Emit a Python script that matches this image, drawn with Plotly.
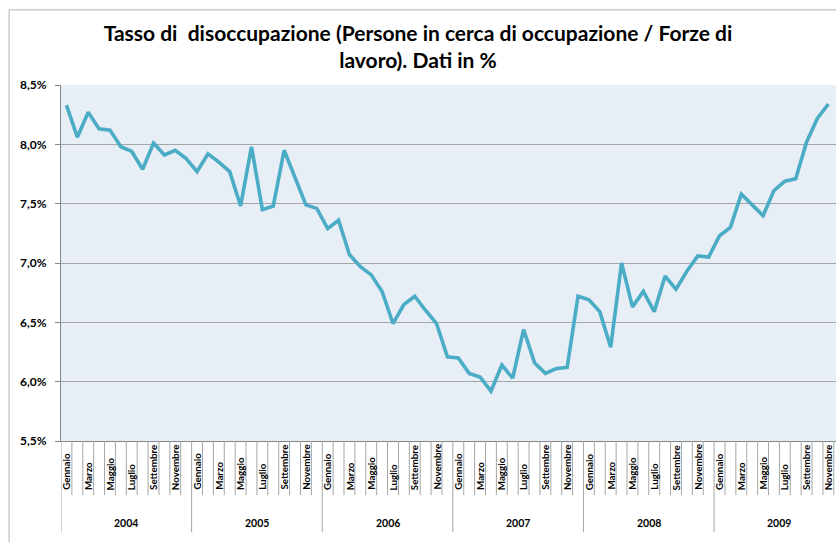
import plotly.graph_objects as go

# Dati mensili (Gennaio 2004 - Novembre 2009)
anni = [2004, 2005, 2006, 2007, 2008, 2009]
mesi = ["Gennaio", "Febbraio", "Marzo", "Aprile", "Maggio", "Giugno",
        "Luglio", "Agosto", "Settembre", "Ottobre", "Novembre", "Dicembre"]
tasso = [
    8.33, 8.06, 8.27, 8.13, 8.12, 7.98, 7.94, 7.79, 8.01, 7.91, 7.95, 7.88,
    7.77, 7.92, 7.85, 7.77, 7.48, 7.98, 7.45, 7.48, 7.95, 7.72, 7.49, 7.46,
    7.29, 7.36, 7.07, 6.97, 6.90, 6.76, 6.49, 6.65, 6.72, 6.60, 6.49, 6.21,
    6.20, 6.07, 6.04, 5.92, 6.14, 6.03, 6.44, 6.16, 6.07, 6.11, 6.12, 6.72,
    6.69, 6.59, 6.29, 7.00, 6.63, 6.76, 6.59, 6.89, 6.78, 6.93, 7.06, 7.05,
    7.23, 7.30, 7.58, 7.49, 7.40, 7.61, 7.69, 7.71, 8.02, 8.22, 8.34,
]
y_ticks = [5.5, 6.0, 6.5, 7.0, 7.5, 8.0, 8.5]
y_labels = [f"{v:.1f}%".replace(".", ",") for v in y_ticks]

FONT = "Lato"
GRIGIO = "#a6a6a6"

n_cat = len(anni) * len(mesi)
x = list(range(len(tasso)))
etichette = [f"{mesi[i % 12]} {anni[i // 12]}" for i in x]

fig = go.Figure()
fig.add_trace(go.Scatter(
    x=x, y=tasso, mode="lines",
    line=dict(color="#4BACC6", width=3.6),
    customdata=etichette,
    hovertemplate="%{customdata}: %{y:.2f}%<extra></extra>",
    showlegend=False,
))

# 1. separatori dei mesi e degli anni sotto l'asse x
shapes = []
for i in range(n_cat + 1):
    lungo = i % 12 == 0
    shapes.append(dict(
        type="line", xref="x", yref="paper",
        x0=i - 0.5, x1=i - 0.5, y0=0, y1=-0.256 if lungo else -0.152,
        line=dict(color=GRIGIO, width=1),
    ))
# bordo dell'area del grafico
shapes.append(dict(
    type="rect", xref="paper", yref="paper",
    x0=-0.067, x1=1.5, y0=-1.0, y1=1.211,
    line=dict(color="#b3b3b3", width=1), layer="below",
))

# 2. etichette dei mesi (una ogni due) e degli anni
annotations = []
for i in range(0, n_cat, 2):
    annotations.append(dict(
        x=i, y=-0.143, xref="x", yref="paper",
        text=mesi[i % 12], textangle=-90, showarrow=False,
        xanchor="center", yanchor="bottom",
        font=dict(family=FONT, size=9.8, color="#000000", weight="bold"),
    ))
for k, anno in enumerate(anni):
    annotations.append(dict(
        x=k * 12 + 5.5, y=-0.230, xref="x", yref="paper",
        text=str(anno), showarrow=False,
        xanchor="center", yanchor="middle",
        font=dict(family=FONT, size=10.5, color="#000000", weight="bold"),
    ))

fig.update_layout(
    width=836, height=542,
    margin=dict(l=61, r=0, t=85, b=101),
    paper_bgcolor="white",
    plot_bgcolor="#E7EEF5",
    title=dict(
        text="Tasso di  disoccupazione (Persone in cerca di occupazione / Forze di<br>lavoro). Dati in %",
        x=0.5, xref="container", xanchor="center",
        y=0.925, yref="container", yanchor="middle",
        font=dict(family=FONT, size=21, color="#000000", weight="bold"),
    ),
    xaxis=dict(
        range=[-0.5, 70.7],
        showgrid=False, zeroline=False,
        showticklabels=False, ticks="",
        showline=True, linecolor="#868686", linewidth=1,
    ),
    yaxis=dict(
        range=[5.5, 8.5], tickvals=y_ticks, ticktext=y_labels,
        showgrid=True, gridcolor=GRIGIO, gridwidth=1,
        zeroline=False,
        showline=True, linecolor="#868686", linewidth=1,
        ticks="outside", ticklen=5, tickcolor="#868686",
        ticklabelstandoff=6,
        tickfont=dict(family=FONT, size=12, color="#000000", weight="bold"),
    ),
    shapes=shapes,
    annotations=annotations,
)

# la pagina ha un margine di default: lo azzero per avere la figura a filo
fig.write_html(
    "out.html",
    config={"displayModeBar": False},
    post_script="document.body.style.margin='0';",
)
